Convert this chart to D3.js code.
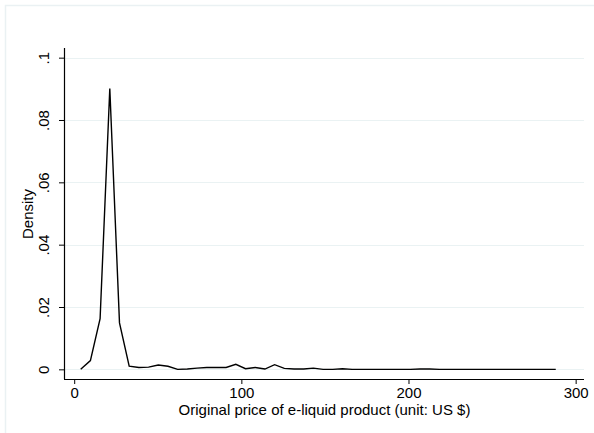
<!DOCTYPE html>
<html>
<head>
<meta charset="utf-8">
<script src="https://cdn.jsdelivr.net/npm/d3@7"></script>
<style>
  html, body { margin: 0; padding: 0; background: #fff; }
  svg { display: block; }
  text { font-family: "Liberation Sans", Arial, sans-serif; fill: #000; }
</style>
</head>
<body>
<svg id="chart" width="594" height="433"></svg>
<script>
// ---- data ----
const priceStart = 3.9;
const priceStep = 5.8;
const densityValues = [
  0.0000, 0.0028, 0.0163, 0.0901, 0.0149, 0.0010, 0.0006, 0.0007, 0.0014, 0.0010,
  0.0000, 0.0001, 0.0004, 0.0006, 0.0006, 0.0006, 0.0016, 0.0002, 0.0006, 0.0001,
  0.0015, 0.0003, 0.0001, 0.0001, 0.0004, 0.0000, 0.0000, 0.0002, 0.0000, 0.0000,
  0.0000, 0.0000, 0.0000, 0.0000, 0.0000, 0.0001, 0.0001, 0.0000, 0.0000, 0.0000,
  0.0000, 0.0000, 0.0000, 0.0000, 0.0000, 0.0000, 0.0000, 0.0000, 0.0000, 0.0000
];
const prices = densityValues.map((_, i) => +(priceStart + i * priceStep).toFixed(1));
const xTicks = [0, 100, 200, 300];
const yTicks = [0, 0.02, 0.04, 0.06, 0.08, 0.1];
const yTickLabels = ["0", ".02", ".04", ".06", ".08", ".1"];
const xTitle = "Original price of e-liquid product (unit: US $)";
const yTitle = "Density";

// ---- layout ----
const svg = d3.select("#chart");
const mLeft = 64, mRight = 584, mTop = 48, mBottom = 379;
const fs = 15;

const x = d3.scaleLinear().domain([-6.1, 305]).range([mLeft, mRight]);
const y = d3.scaleLinear().domain([-0.0031, 0.1031]).range([mBottom, mTop]);

// outer frame (left & top only visible)
svg.append("path")
  .attr("d", "M5.5,433 V5.5 H594")
  .attr("fill", "none").attr("stroke", "#eaf1f3").attr("stroke-width", 1.5);

// gridlines
svg.append("g").selectAll("line").data(yTicks).join("line")
  .attr("x1", mLeft).attr("x2", mRight)
  .attr("y1", d => Math.round(y(d)) + 0.5).attr("y2", d => Math.round(y(d)) + 0.5)
  .attr("stroke", "#eaf2f3").attr("stroke-width", 1.2);

// density line
const line = d3.line().x((d, i) => x(prices[i])).y(d => y(d));
svg.append("path").datum(densityValues)
  .attr("d", line).attr("fill", "none")
  .attr("stroke", "#000").attr("stroke-width", 1.4).attr("stroke-linejoin", "miter");

// y axis
const yAxis = d3.axisLeft(y).tickValues(yTicks).tickSize(5).tickPadding(8)
  .tickFormat((d, i) => yTickLabels[i]);
const gy = svg.append("g").attr("transform", `translate(${mLeft},0)`).call(yAxis);
gy.select(".domain").attr("d", `M0.5,${mTop}V${mBottom}`).attr("stroke", "#000").attr("stroke-width", 1.2);
gy.selectAll(".tick line").attr("stroke", "#000");
gy.selectAll(".tick text")
  .attr("font-size", fs).attr("font-family", "Liberation Sans, Arial, sans-serif")
  .attr("text-anchor", "middle").attr("x", null).attr("dy", null)
  .attr("transform", "translate(-21,0) rotate(-90)")
  .attr("dominant-baseline", "central");

// x axis
const xAxis = d3.axisBottom(x).tickValues(xTicks).tickSize(5).tickPadding(3);
const gx = svg.append("g").attr("transform", `translate(0,${mBottom})`).call(xAxis);
gx.select(".domain").attr("d", `M${mLeft},0.5H${mRight}`).attr("stroke", "#000").attr("stroke-width", 1.2);
gx.selectAll(".tick line").attr("stroke", "#000");
gx.selectAll(".tick text").attr("font-size", fs).attr("font-family", "Liberation Sans, Arial, sans-serif");

// titles
svg.append("text").attr("x", 324.5).attr("y", 415)
  .attr("text-anchor", "middle").attr("font-size", fs).text(xTitle);
svg.append("text").attr("transform", `translate(33,214) rotate(-90)`)
  .attr("text-anchor", "middle").attr("font-size", fs).text(yTitle);
</script>
</body>
</html>
